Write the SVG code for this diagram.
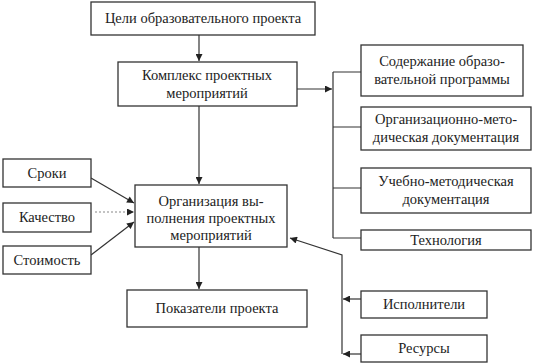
<svg xmlns="http://www.w3.org/2000/svg" width="534" height="364" viewBox="0 0 534 364">
<defs>
<marker id="ah" viewBox="0 0 10 10" refX="10" refY="5" markerWidth="8" markerHeight="7" markerUnits="userSpaceOnUse" orient="auto">
<path d="M0,0 L10,5 L0,10 z" fill="#222"/>
</marker>
<style>
.box{fill:#fff;stroke:#333;stroke-width:1.3}
.t{font-family:"Liberation Serif","Times New Roman",serif;font-size:14.5px;fill:#222;text-anchor:middle}
.c{fill:none;stroke:#333;stroke-width:1.2}
.a{marker-end:url(#ah)}
</style>
</defs>
<rect width="534" height="364" fill="#fff"/>
<g id="connectors">
<path class="c a" d="M199,35 V61"/>
<path class="c a" d="M199,106 V184"/>
<path class="c a" d="M199,247 V289"/>
<path class="c a" d="M297,89 H332"/>
<path class="c" d="M333,72 V238 M333,72 H361 M333,127 H361 M333,188 H361 M333,238 H361"/>
<path class="c a" d="M91,178 L134,203"/>
<path class="c a" d="M95,212 H134" stroke-dasharray="2,2" style="stroke:#888"/>
<path class="c a" d="M91,255 L134,222"/>
<path class="c a" d="M361,299 H343"/>
<path class="c a" d="M361,354 H343"/>
<path class="c a" d="M342,354 V255 L290,238"/>
</g>
<g id="goals"><rect class="box" x="91" y="2" width="224" height="33"/><text class="t" x="203" y="23">Цели образовательного проекта</text></g>
<g id="complex"><rect class="box" x="118" y="62" width="179" height="44"/><text class="t" x="207" y="80">Комплекс проектных</text><text class="t" x="207" y="98">мероприятий</text></g>
<g id="content"><rect class="box" x="361" y="45" width="162" height="51"/><text class="t" x="442" y="66">Содержание образо-</text><text class="t" x="442" y="84">вательной программы</text></g>
<g id="orgdoc"><rect class="box" x="361" y="107" width="170" height="43"/><text class="t" x="446" y="124">Организационно-мето-</text><text class="t" x="446" y="142">дическая документация</text></g>
<g id="edudoc"><rect class="box" x="361" y="168" width="170" height="45"/><text class="t" x="446" y="186">Учебно-методическая</text><text class="t" x="446" y="204">документация</text></g>
<g id="tech"><rect class="box" x="361" y="230" width="170" height="20"/><text class="t" x="446" y="245">Технология</text></g>
<g id="terms"><rect class="box" x="3" y="159" width="88" height="28"/><text class="t" x="47" y="178">Сроки</text></g>
<g id="quality"><rect class="box" x="3" y="203" width="88" height="29"/><text class="t" x="47" y="222">Качество</text></g>
<g id="cost"><rect class="box" x="3" y="246" width="88" height="28"/><text class="t" x="47" y="265">Стоимость</text></g>
<g id="org"><rect class="box" x="135" y="185" width="152" height="62"/><text class="t" x="211" y="206">Организация вы-</text><text class="t" x="211" y="223">полнения проектных</text><text class="t" x="211" y="240">мероприятий</text></g>
<g id="indicators"><rect class="box" x="127" y="290" width="180" height="37"/><text class="t" x="217" y="313">Показатели проекта</text></g>
<g id="executors"><rect class="box" x="361" y="291" width="126" height="27"/><text class="t" x="424" y="309">Исполнители</text></g>
<g id="resources"><rect class="box" x="361" y="335" width="126" height="27"/><text class="t" x="424" y="353">Ресурсы</text></g>
</svg>
